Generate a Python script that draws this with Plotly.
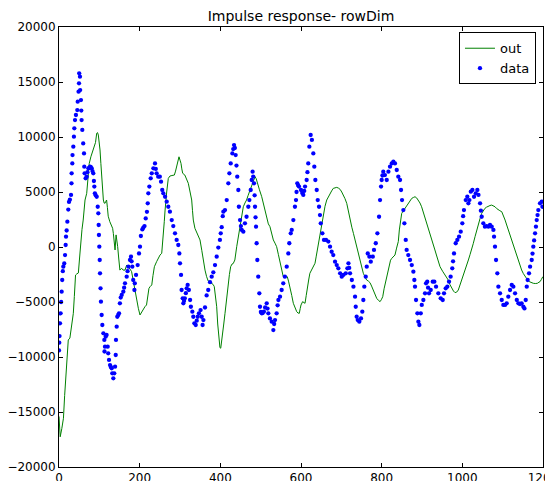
import plotly.graph_objects as go

title_text = "Impulse response- rowDim"
x_ticks = [0, 200, 400, 600, 800, 1000, 1200]
x_ticklabels = ["0", "200", "400", "600", "800", "1000", "1200"]
y_ticks = [-20000, -15000, -10000, -5000, 0, 5000, 10000, 15000, 20000]
y_ticklabels = ["\u221220000", "\u221215000", "\u221210000", "\u22125000", "0",
                "5000", "10000", "15000", "20000"]

# "out" series (green line): (sample, value)
out_points = [
    (0, -15400), (3, -17250), (7, -16500), (11, -15570), (14, -13500), (17.5, -11480), (20, -9800),
    (23, -8450), (27, -8280), (31, -7200), (35.5, -6030), (38, -4500), (41, -2550), (44, -2450),
    (48, -2360), (51, -1000), (54.5, 700), (57, 1600), (60, 2450), (64.5, 4270), (68.7, 4880),
    (72, 6300), (75, 7600), (79, 8200), (82.7, 8660), (87.6, 9120), (90.5, 9500), (93.5, 10340),
    (95.5, 10400), (97.5, 10180), (99.5, 9600), (101.7, 8820), (103.8, 7600), (105.8, 6390),
    (108, 5300), (110, 4270), (112, 4000), (114, 3970), (115.7, 4120), (118, 4270), (120, 3600),
    (122, 2800), (126, 2300), (130.6, 1850), (133, 1700), (134.7, 1240), (137, 500), (139, -270),
    (141.5, 1100), (143.5, 600), (145.5, 30), (148, -1000), (151, -2100), (153, -2000),
    (155.5, -1940), (159, -2100), (163.6, -2100), (167.8, -1640), (172, -1790), (176, -2000),
    (180, -2240), (184, -3100), (188.4, -4060), (192, -4800), (196.7, -5570), (200.8, -6180),
    (203.5, -6000), (206.6, -5880), (210, -5600), (213, -5430), (217, -5270), (220, -4500),
    (223, -3760), (226, -3600), (230, -3450), (233, -2600), (236.5, -1790), (242, -1330),
    (246, -1000), (250.5, -730), (254.7, -570), (257, 300), (259, 1240), (261, 2300), (263, 3360),
    (265, 4400), (267, 5000), (271, 6240), (275, 6450), (280, 6500), (286, 6540), (289, 6900),
    (292, 7300), (295, 7800), (297.5, 8200), (300, 7900), (302.5, 7600), (304.5, 7100),
    (306.7, 6700), (312, 6540), (316, 6200), (320.6, 5790), (325, 5000), (329, 4270), (331, 3300),
    (333, 2450), (337, 1700), (344, 1100), (349.6, 640), (354, -300), (358, -1300), (362, -2100),
    (366, -2700), (370, -3100), (374.4, -3200), (378.6, -3300), (382, -3400), (385, -3600),
    (388, -4300), (391, -5430), (393.5, -7000), (396.7, -8600), (399, -9150), (401, -9200),
    (403.5, -8600), (405.8, -7850), (408.5, -7000), (411.6, -6030), (416, -4500), (419.8, -3150),
    (422.5, -2500), (425.6, -1790), (429, -1550), (432, -1500), (436, -1180), (440.6, 30),
    (444.5, 1000), (448.8, 1850), (453, 2700), (457, 3660), (461, 4000), (465, 4270), (469, 4700),
    (473.6, 5180), (478, 5700), (482, 6090), (486, 6390), (489, 6200), (491.7, 5790), (497, 5200),
    (502.6, 4570), (507, 3900), (510.8, 3360), (515, 2450), (519, 2100), (523, 1850), (527, 1250),
    (531.4, 640), (535.5, 350), (539.6, 30), (544, -700), (548, -1480), (552, -2100), (556, -2700),
    (561, -2750), (566, -2700), (569, -3100), (572.8, -3610), (577, -4400), (581, -5120),
    (585, -5500), (589.4, -5880), (592.5, -6000), (595.8, -6030), (598, -5600), (600, -5270),
    (604, -4970), (607, -5050), (610, -5120), (613, -4400), (615.7, -3610), (619, -3000),
    (622, -2390), (626, -2100), (630.6, -1790), (634.7, -1480), (637.5, -900), (640.5, -270),
    (644, 500), (647, 1240), (651, 2200), (655.4, 3060), (659.5, 3700), (663.8, 4270), (668, 4600),
    (672, 4880), (676, 5100), (680, 5330), (684, 5400), (688.6, 5420), (693, 5350), (697, 5240),
    (701, 5000), (705, 4730), (709, 4400), (713.4, 3970), (717.5, 3200), (721.6, 2450),
    (726, 1800), (730, 1240), (734, 600), (738, 30), (742, -600), (746, -1180), (750, -1800),
    (754.5, -2390), (758.5, -2700), (762.7, -3000), (767, -3100), (771, -3240), (775, -3550),
    (779, -3910), (783, -4300), (787.7, -4670), (792, -4850), (796, -4970), (799, -4800),
    (802.6, -4520), (806, -3800), (810.8, -3000), (815, -2200), (819, -1480), (822, -1200),
    (825, -1030), (829, -880), (833, -730), (837, -100), (841.3, 500), (843.8, 1550),
    (846.5, 2300), (849.7, 3060), (854, 3300), (858, 3510), (862, 3750), (866, 3970), (870, 4200),
    (874.6, 4420), (878.5, 4500), (882.7, 4570), (887, 4450), (891, 4270), (895, 4000),
    (899, 3660), (903, 3200), (907.5, 2750), (913, 2100), (920, 1240), (926, 500), (932, -270),
    (938, -1000), (944.7, -1790), (951, -2200), (957, -2540), (961, -2750), (965, -3000),
    (969, -3400), (973.7, -3760), (978, -4000), (982, -4150), (986, -4100), (990, -3910),
    (994, -3500), (998.5, -3000), (1002.5, -2550), (1006.7, -2090), (1011, -1650), (1015, -1180),
    (1019, -700), (1023, -270), (1027, 300), (1031.5, 940), (1035.5, 1550), (1039.7, 2150),
    (1044, 2600), (1048, 3060), (1052, 3300), (1056, 3510), (1060, 3620), (1064.5, 3720),
    (1068.5, 3770), (1072.8, 3810), (1077, 3750), (1081, 3660), (1085, 3500), (1089, 3360),
    (1093, 3300), (1097.7, 3210), (1102, 2850), (1106, 2450), (1110, 2000), (1114, 1550),
    (1118, 1100), (1122.5, 640), (1126.5, 200), (1130.7, -270), (1135, -700), (1139, -1180),
    (1143, -1650), (1147, -2090), (1151, -2400), (1155.6, -2700), (1160, -2900), (1166, -3150),
    (1171, -3250), (1176, -3300), (1181, -3320), (1186, -3300), (1190, -3200), (1192.6, -3150),
    (1196, -2950), (1199.5, -2700),
]

# "data" series (blue dots): (sample, value)
data_points = [
    (0, -9400), (0.7, -8700), (1.3, -8100), (2.5, -6940), (4, -6030), (5.3, -5000), (6.6, -4060),
    (8, -3000), (9.5, -2200), (10.7, -1790), (13, -1500), (15, -730), (16.5, 180), (17.4, 940),
    (19, 1500), (20.7, 2300), (23, 3400), (24.8, 4100), (27, 4300), (29.8, 4730), (31, 5790),
    (31.4, 6700), (33, 7600), (33.5, 8360), (35.5, 9120), (37, 10030), (38, 10790), (39.7, 11540),
    (42, 12000), (45.4, 12450), (46.4, 13210), (48.5, 14120), (49.6, 14880), (50, 15790),
    (52, 15480), (52.5, 14270), (54.5, 13360), (55.3, 12400), (56, 11540), (57.8, 10640),
    (60, 9420), (62, 8510), (62.7, 7300), (63.5, 6700), (66, 6240), (68.7, 6390), (70.5, 6800),
    (72.7, 7150), (75, 7200), (77, 7300), (79, 7250), (81, 7150), (83, 6900), (85, 6700),
    (86.5, 6000), (87.6, 5490), (89, 4880), (91, 4700), (93.5, 4570), (96, 3660), (97.5, 3060),
    (98.4, 2000), (99, 1090), (100, 30), (101, -1180), (101.7, -2390), (103, -3760), (104, -4970),
    (105.8, -6180), (107.4, -7090), (110, -7850), (112.4, -8450), (112.8, -9500), (114, -9060),
    (115.7, -8150), (118, -8000), (120.7, -9060), (122, -9670), (124, -10270), (126.5, -10730),
    (128.5, -10900), (130.6, -11030), (132, -11480), (134.7, -11940), (137, -11480),
    (139, -10880), (140.6, -9820), (141.3, -8450), (143, -7240), (144.6, -6340), (147, -6180),
    (148.8, -6030), (151, -5120), (153, -4600), (155.5, -4360), (159.5, -4060), (161.5, -3700),
    (163.6, -3300), (167.8, -2700), (170, -2200), (172, -1790), (176, -1180), (178.5, -880),
    (180, -1300), (181.8, -1790), (184, -3000), (187, -3910), (188, -3300), (191, -2540),
    (195, -1640), (198.4, -580), (200.8, 30), (203, 1000), (206.6, 1600), (209, 1750), (212, 1900),
    (215, 2600), (218, 3200), (220, 3970), (221.4, 4880), (224, 5490), (227.4, 6240), (230, 6700),
    (234, 7150), (238, 7600), (240, 7100), (242, 6700), (246, 6390), (250, 6390), (253, 5940),
    (256, 5180), (258.6, 4880), (263, 4570), (267, 4120), (271, 3660), (275, 3210), (279.5, 2450),
    (283.4, 1900), (287.6, 1240), (291.7, 640), (295.8, 180), (298.4, -580), (300, -1480),
    (302.6, -2540), (304, -3910), (306.7, -4670), (308.3, -5120), (310, -4900), (312, -4670),
    (314.5, -4200), (316.6, -3760), (319, -3450), (322, -3910), (325, -4820), (327, -5430),
    (330.6, -5880), (333, -6340), (335.6, -6940), (339, -7090), (341.5, -6700), (344, -6340),
    (347, -6030), (351, -5730), (353.8, -6340), (356, -7090), (358, -6640), (362, -5500),
    (366, -4400), (370, -3910), (374.4, -3200), (378.6, -2700), (382.6, -2300), (386.8, -1640),
    (391, -880), (395, -50), (399, 640), (401, 1240), (403.4, 1800), (406, 2800), (407.5, 3210),
    (411.6, 3360), (415.8, 4270), (419.8, 5790), (422.4, 6700), (425.7, 7600), (429.8, 8510),
    (432, 8900), (434, 9270), (436, 9000), (438, 8360), (440, 7400), (442, 6390), (444.6, 5180),
    (446, 3660), (448.8, 2450), (451, 1900), (453, 1550), (457, 1390), (461, 2150), (465, 2750),
    (469.4, 3660), (472, 4270), (475.3, 5180), (477.8, 6090), (480, 6850), (481.5, 6400),
    (483.5, 5790), (485, 4700), (486, 3660), (487.3, 2700), (488.5, 1850), (490, 340),
    (491.7, -1180), (494, -2700), (496.7, -4210), (498.4, -5430), (500.5, -5900), (502.6, -6030),
    (505, -6000), (508, -5880), (511, -5500), (515, -5120), (517, -5600), (519, -6030),
    (523, -6490), (527.4, -6790), (531.4, -7550), (533.5, -7000), (535.6, -6640), (539.6, -6030),
    (542, -5300), (544, -4820), (548, -4520), (552, -3910), (556, -3300), (560, -2700),
    (564.6, -1790), (568.6, -580), (571, 340), (574.6, 1240), (577, 1550), (581, 2450),
    (585, 3660), (587.6, 4270), (589, 5000), (590.8, 5790), (593, 5600), (595, 5490), (600, 5180),
    (603, 4900), (605.7, 4730), (608, 5100), (610, 5490), (614, 6090), (616, 6800), (618, 7600),
    (620.7, 9120), (624, 10180), (627, 9730), (630.6, 8510), (633, 7300), (635.6, 6090),
    (639, 5180), (641.5, 4270), (644.7, 3660), (647, 2900), (649, 2150), (653, 1240), (657, 640),
    (662, 640), (667.7, 490), (672, 30), (676, -430), (680, -730), (684.4, -1330), (688.6, -1640),
    (692.6, -1940), (697, -2390), (701, -2700), (705, -2540), (711, -2390), (715, -1940),
    (717.6, -1480), (719.5, -1900), (721.6, -2390), (726, -3000), (730, -3610), (734, -4520),
    (735.7, -5430), (738, -6340), (740.7, -6640), (744.6, -6790), (748.8, -6490), (752, -5880),
    (754.5, -4820), (757, -3610), (760.5, -2700), (763, -1790), (765.5, -580), (769.5, -880),
    (773, -1330), (778, -880), (781, -270), (785.4, 340), (789.4, 1240), (793.5, 2750),
    (796, 4270), (798.5, 5490), (800, 6090), (802, 6500), (804, 6850), (808, 6540), (812.6, 6090),
    (816.7, 6850), (820.7, 7300), (825, 7600), (829, 7750), (833, 7600), (837.4, 7000),
    (841.3, 6390), (845.5, 6090), (848, 5180), (850.5, 4270), (853.8, 3360), (856.3, 2150),
    (859.7, 640), (862, -270), (866, -730), (870.3, -1180), (874.6, -1640), (878.6, -2240),
    (881, -3000), (882.7, -3610), (885.2, -4820), (888.5, -6030), (891, -6790), (893.5, -7090),
    (897, -6030), (899.4, -5270), (903.4, -4820), (907.5, -4210), (910, -3300), (913, -3150),
    (915, -3700), (917.4, -4210), (921.6, -3910), (926.6, -3150), (930.6, -3150), (934.8, -3610),
    (940.5, -4210), (946.4, -4670), (951.4, -4820), (954.6, -4210), (958.8, -3760),
    (962.8, -3610), (967, -3150), (971, -2700), (975, -1940), (977, -1300), (979.4, -580),
    (983.6, 340), (987.6, 640), (991.8, 940), (996, 1390), (1000, 2150), (1002, 2800),
    (1004, 3360), (1008.4, 4270), (1012.4, 4570), (1015, 3970), (1017.5, 4270), (1021, 5030),
    (1025, 5180), (1029, 4570), (1033.3, 4880), (1037.3, 5180), (1040, 4730), (1044, 3970),
    (1046, 3300), (1048, 2750), (1052, 2150), (1056, 1850), (1060, 1900), (1064.5, 1850),
    (1068.6, 2000), (1072.8, 1850), (1077, 1550), (1078.6, 940), (1081, 30), (1083.6, -1180),
    (1086.8, -2390), (1089.4, -3610), (1093.5, -4210), (1097.7, -4820), (1101.7, -5270),
    (1106, -5270), (1110, -5120), (1114, -4520), (1118.3, -3910), (1122.5, -3450),
    (1126.5, -3610), (1130.7, -4210), (1135, -4820), (1139, -5120), (1143, -5180), (1147, -5120),
    (1151.3, -5430), (1154, -5580), (1157.2, -4820), (1159.7, -3610), (1162, -3000),
    (1165.4, -2390), (1168, -1790), (1172, -1180), (1174, -600), (1176, 30), (1178, 600),
    (1180.3, 1240), (1182.5, 1850), (1184.4, 2450), (1186.5, 2900), (1188.4, 3360),
    (1192.6, 3970), (1196.8, 4120), (1198.5, 3660),
]

out_x = [p[0] for p in out_points]
out_y = [p[1] for p in out_points]
data_x = [p[0] for p in data_points]
data_y = [p[1] for p in data_points]

FONT = "DejaVu Sans"
# the page body adds an 8px margin; the figure is sized so the plot lands
# in the same place as the reference
FIG_W, FIG_H = 545, 473

fig = go.Figure()
fig.add_trace(go.Scatter(
    x=out_x, y=out_y, mode="lines", name="out",
    line=dict(color="#008000", width=1),
))
fig.add_trace(go.Scatter(
    x=data_x, y=data_y, mode="markers", name="data",
    marker=dict(color="#0000ff", size=4.3, line=dict(width=0)),
))

axis_common = dict(
    showgrid=False, zeroline=False, showline=True, linecolor="black", linewidth=1,
    mirror="ticks", ticks="inside", ticklen=4, tickcolor="black", tickwidth=1,
    tickfont=dict(family=FONT, size=12, color="black"), automargin=False,
    ticklabeloverflow="allow",
)

fig.update_layout(
    width=FIG_W, height=FIG_H,
    margin=dict(l=51, r=10, t=19, b=14, pad=0),
    paper_bgcolor="white", plot_bgcolor="white",
    template="none",
    font=dict(family=FONT, size=12, color="black"),
    title=dict(text=title_text, x=0.5, xref="paper", xanchor="center",
               y=1 - 8.5 / FIG_H, yref="container", yanchor="middle",
               font=dict(family=FONT, size=14, color="black")),
    xaxis=dict(range=[0, 1200], tickvals=x_ticks, ticktext=x_ticklabels, **axis_common),
    yaxis=dict(range=[-20000, 20000], tickvals=y_ticks, ticktext=y_ticklabels, **axis_common),
    legend=dict(x=0.9855, xanchor="right", y=0.988, yanchor="top",
                bordercolor="black", borderwidth=1, bgcolor="white",
                font=dict(family=FONT, size=13, color="black"),
                tracegroupgap=0),
    showlegend=True,
)

fig.write_html("out.html")
